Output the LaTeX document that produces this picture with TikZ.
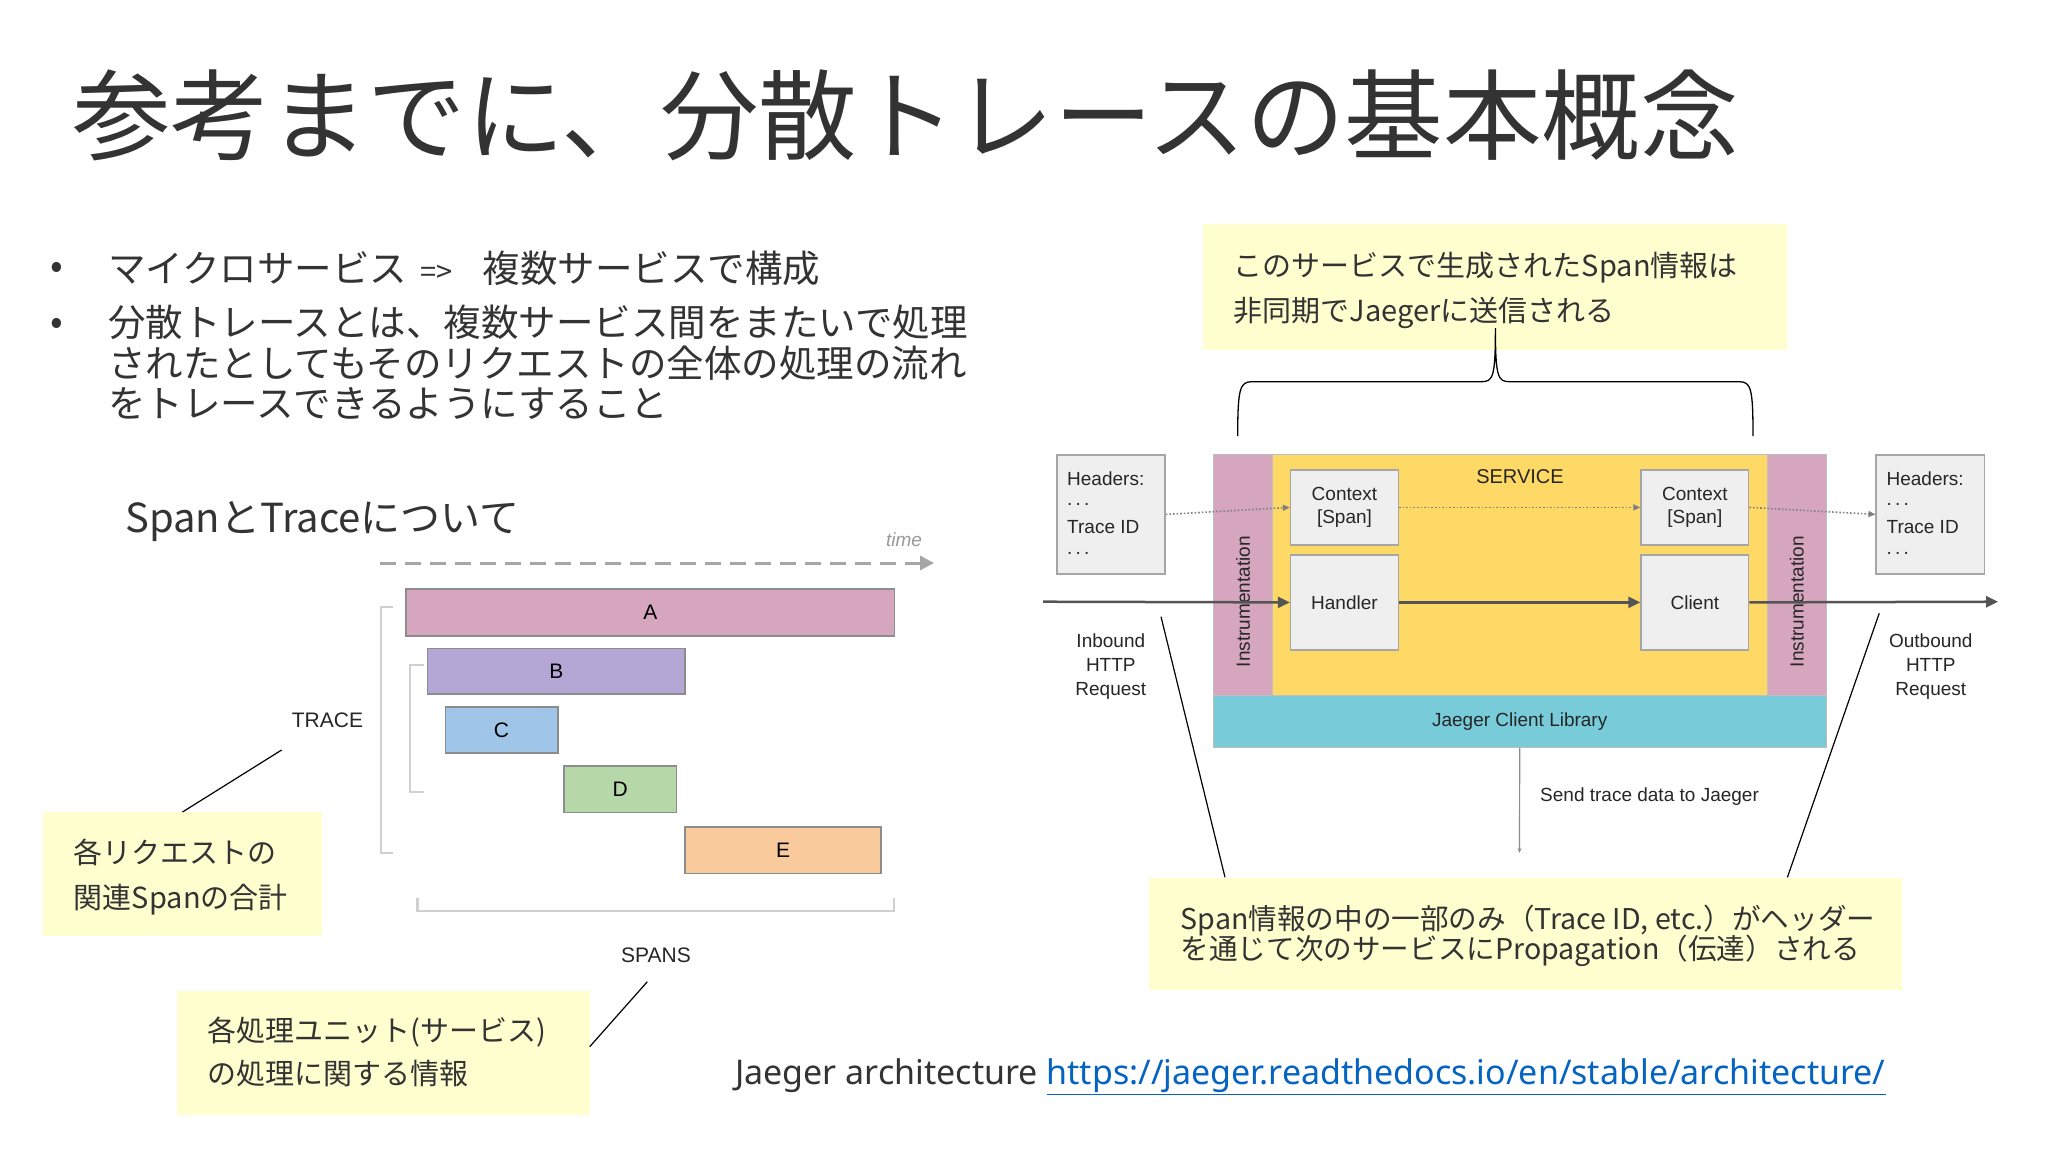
\documentclass[tikz,border=0pt]{standalone}
\usepackage{fontspec}
\setmainfont{Noto Sans CJK JP}
\newfontfamily\jpf{Noto Sans CJK JP}
\newfontfamily\arf{Liberation Sans}
\newfontfamily\latf{Noto Sans}
\usetikzlibrary{arrows.meta,calc}
\definecolor{txt}{HTML}{333333}
\definecolor{note}{HTML}{FEFECE}
\definecolor{spA}{HTML}{D5A6BD}
\definecolor{spB}{HTML}{B4A7D6}
\definecolor{spC}{HTML}{9FC5E8}
\definecolor{spD}{HTML}{B6D7A8}
\definecolor{spE}{HTML}{F9CB9C}
\definecolor{svc}{HTML}{FFD966}
\definecolor{jcl}{HTML}{78CCDA}
\definecolor{boxg}{HTML}{EFEFEF}
\definecolor{brk}{HTML}{D0D0D0}
\definecolor{arr}{HTML}{555555}
\definecolor{link}{HTML}{0563C1}
\begin{document}
\begin{tikzpicture}[x=1pt,y=-1pt,
  jt/.style={anchor=base west,inner sep=0pt,text=txt,yshift={-0.38*(#1)},font=\fontsize{#1}{#1}\selectfont},
  notetxt/.style={jt=29},
  notebox/.style={fill=note,draw=none,anchor=north west,inner sep=0pt},
  spanbox/.style={draw=black!45,line width=1.5pt,anchor=north west,inner sep=0pt,font=\arf\fontsize{21}{24}\selectfont},
  bracket/.style={draw=brk,line width=2.2pt},
  lbl/.style={font=\arf\fontsize{19}{24}\selectfont,text=black!85,inner sep=0pt},
  gbox/.style={fill=boxg,draw=black!35,line width=1.5pt,anchor=north west,inner sep=0pt,align=center,font=\arf\fontsize{19}{23}\selectfont,text=black!85},
  band/.style={anchor=north west,inner sep=0pt,draw=black!25,line width=1pt},
  pointer/.style={draw=black,line width=1.2pt},
  mainarr/.style={draw=arr,line width=2.5pt,-{Triangle[length=12pt,width=11pt]}},
  dotarr/.style={draw=black!50,line width=1.6pt,dotted,-{Triangle[length=7pt,width=6pt]}},
]
\useasboundingbox[fill=white] (0,0) rectangle (2048,1152);

% title
\node[jt=98.5] (title) at (72,115) {参考までに、分散トレースの基本概念};

% bullets
\node[font=\fontsize{37.5}{40}\selectfont,text=txt,inner sep=0pt] (bu1) at (57,270) {•};
\node[font=\fontsize{37.5}{40}\selectfont,text=txt,inner sep=0pt] (bu2) at (57,326) {•};
\node[jt=37.5] (l1) at (108,268) {マイクロサービス\hspace{0.35em}{\fontsize{29}{32}\selectfont =>}\hspace{0.8em}複数サービスで構成};
\node[jt=37.5] (l2) at (108,322) {分散トレースとは、複数サービス間をまたいで処理};
\node[jt=37.5] (l3) at (108,363) {されたとしてもそのリクエストの全体の処理の流れ};
\node[jt=37.5] (l4) at (108,403) {をトレースできるようにすること};

% left: span & trace
\node[jt=40] (sth) at (125,517) {SpanとTraceについて};
\node[font=\arf\itshape\fontsize{19}{22}\selectfont,text=black!40,inner sep=0pt] (time) at (904,540) {time};
\coordinate (ta0) at (380,563);
\coordinate (ta1) at (934,563);
\draw[draw=black!35,line width=3pt,dash pattern=on 16pt off 9pt,-{Triangle[length=14pt,width=14pt]}] (ta0) -- (ta1);

\node[spanbox,fill=spA,minimum width=488.5pt,minimum height=46.7pt] (A) at (405.3,588.3) {A};
\node[spanbox,fill=spB,minimum width=257.7pt,minimum height=45.6pt] (B) at (426.7,647.7) {B};
\node[spanbox,fill=spC,minimum width=112.6pt,minimum height=46.3pt] (C) at (444.5,706) {C};
\node[spanbox,fill=spD,minimum width=112.7pt,minimum height=46.7pt] (D) at (563.2,765) {D};
\node[spanbox,fill=spE,minimum width=195.9pt,minimum height=46.7pt] (E) at (684.4,826) {E};

\draw[bracket] (393,607) -- (381,607) -- (381,853) -- (393,853);
\draw[bracket] (424,665) -- (410,665) -- (410,792) -- (424,792);
\draw[bracket] (417.5,898) -- (417.5,911) -- (894,911) -- (894,898);

\node[lbl,font=\arf\fontsize{21}{24}\selectfont] (trace) at (327.5,720) {TRACE};
\node[lbl,font=\arf\fontsize{21}{24}\selectfont] (spans) at (656,955) {SPANS};

\node[notebox,minimum width=279pt,minimum height=124pt] (n1) at (42.5,812) {};
\node[notetxt] (n1a) at (73.7,852) {各リクエストの};
\node[notetxt] (n1b) at (73.7,897) {関連Spanの合計};
\coordinate (p1) at (281.6,750);
\draw[pointer] (p1) -- ($(n1.north west)+(140,0)$);

\node[notebox,minimum width=413pt,minimum height=124.3pt] (n2) at (176.3,990.7) {};
\node[notetxt] (n2a) at (207.6,1030) {各処理ユニット(サービス)};
\node[notetxt] (n2b) at (207.6,1073.3) {の処理に関する情報};
\coordinate (p2) at (647.3,981.7);
\draw[pointer] (p2) -- ($(n2.north east)+(0,56)$);

% right: jaeger architecture
\node[notebox,minimum width=584pt,minimum height=126pt] (n3) at (1203,224) {};
\node[notetxt] (n3a) at (1233.7,265) {このサービスで生成されたSpan情報は};
\node[notetxt] (n3b) at (1233.7,310) {非同期でJaegerに送信される};
\coordinate (bl) at (1237.7,436);
\coordinate (bpk) at (1495.4,328);
\coordinate (br) at (1753,436);
\draw[pointer,line width=1.3pt] (bl) .. controls (1237.7,388) and (1240,381.7) .. (1252,381.7) -- (1481,381.7) .. controls (1493,381.7) and (1495.4,378) .. (bpk) .. controls (1495.4,378) and (1498,381.7) .. (1510,381.7) -- (1739,381.7) .. controls (1751,381.7) and (1753,388) .. (br);

\node[gbox,minimum width=108.3pt,minimum height=119.3pt] (hl) at (1056,454) {};
\node[lbl,anchor=west] (hl1) at (1067,478.3) {Headers:};
\node[lbl,anchor=west] (hl2) at (1067,504) {.\,.\,.};
\node[lbl,anchor=west] (hl3) at (1067,526.7) {Trace ID};
\node[lbl,anchor=west] (hl4) at (1067,553) {.\,.\,.};
\node[gbox,minimum width=108.3pt,minimum height=119.3pt] (hr) at (1875.4,454) {};
\node[lbl,anchor=west] (hr1) at (1886.4,478.3) {Headers:};
\node[lbl,anchor=west] (hr2) at (1886.4,504) {.\,.\,.};
\node[lbl,anchor=west] (hr3) at (1886.4,526.7) {Trace ID};
\node[lbl,anchor=west] (hr4) at (1886.4,553) {.\,.\,.};

\node[band,fill=spA,minimum width=59.3pt,minimum height=241pt] (il) at (1212.6,454) {};
\node[band,fill=svc,minimum width=494.6pt,minimum height=241pt] (svc) at (1271.9,454) {};
\node[band,fill=spA,minimum width=59.3pt,minimum height=241pt] (ir) at (1766.5,454) {};
\node[band,fill=jcl,minimum width=613.2pt,minimum height=51.7pt,font=\arf\fontsize{19}{24}\selectfont,text=black!85] (jcl) at (1212.6,695) {Jaeger Client Library};
\node[lbl,rotate=90] (ilt) at (1243,601.7) {Instrumentation};
\node[lbl,rotate=90] (irt) at (1796.8,601.7) {Instrumentation};
\node[lbl,font=\arf\fontsize{20}{24}\selectfont] (svct) at (1520,477) {SERVICE};

\node[gbox,minimum width=107.6pt,minimum height=74.7pt] (cl) at (1289.9,469.3) {Context\\{[Span]}};
\node[gbox,minimum width=107.6pt,minimum height=95.3pt] (hd) at (1289.9,554) {Handler};
\node[gbox,minimum width=107.6pt,minimum height=74.7pt] (cr) at (1640.3,469.3) {Context\\{[Span]}};
\node[gbox,minimum width=107.6pt,minimum height=95.3pt] (cn) at (1640.3,554) {Client};

\coordinate (inA) at (1043,601.7);
\coordinate (outA) at (1998,601.7);
\draw[mainarr] (inA) -- (hd.west);
\draw[mainarr] (hd.east) -- (cn.west);
\draw[mainarr] (cn.east) -- (outA);
\draw[dotarr] (hl.east) -- (cl.west);
\draw[dotarr] (cl.east) -- (cr.west);
\draw[dotarr] (cr.east) -- (hr.west);

\node[lbl,align=center] (inb) at (1110.8,666.7) {Inbound\\HTTP\\Request};
\node[lbl,align=center] (outb) at (1930.8,666.7) {Outbound\\HTTP\\Request};

\coordinate (sendend) at (1519.5,853);
\draw[draw=black!45,line width=1.2pt,-{Stealth[length=5pt,width=4pt]}] (jcl.south) -- (sendend);
\node[lbl,anchor=west] (send) at (1540,796.7) {Send trace data to Jaeger};

\node[notebox,minimum width=752.9pt,minimum height=112pt] (n4) at (1148.7,877.3) {};
\node[jt=28.6] (n4a) at (1180.5,918.3) {Span情報の中の一部のみ（Trace ID, etc.）がヘッダー};
\node[jt=28.6] (n4b) at (1180.5,948.3) {を通じて次のサービスにPropagation（伝達）される};
\coordinate (q1) at (1161,616.7);
\coordinate (q2) at (1879.2,613.3);
\draw[pointer] (q1) -- ($(n4.north west)+(76.3,0)$);
\draw[pointer] (q2) -- ($(n4.north east)+(-114.6,0)$);

\node[jt=34,font=\latf\fontsize{34}{38}\selectfont] (url) at (735,1071.7) {Jaeger architecture \textcolor{link}{\underline{https://jaeger.readthedocs.io/en/stable/architecture/}}};
\end{tikzpicture}
\end{document}
